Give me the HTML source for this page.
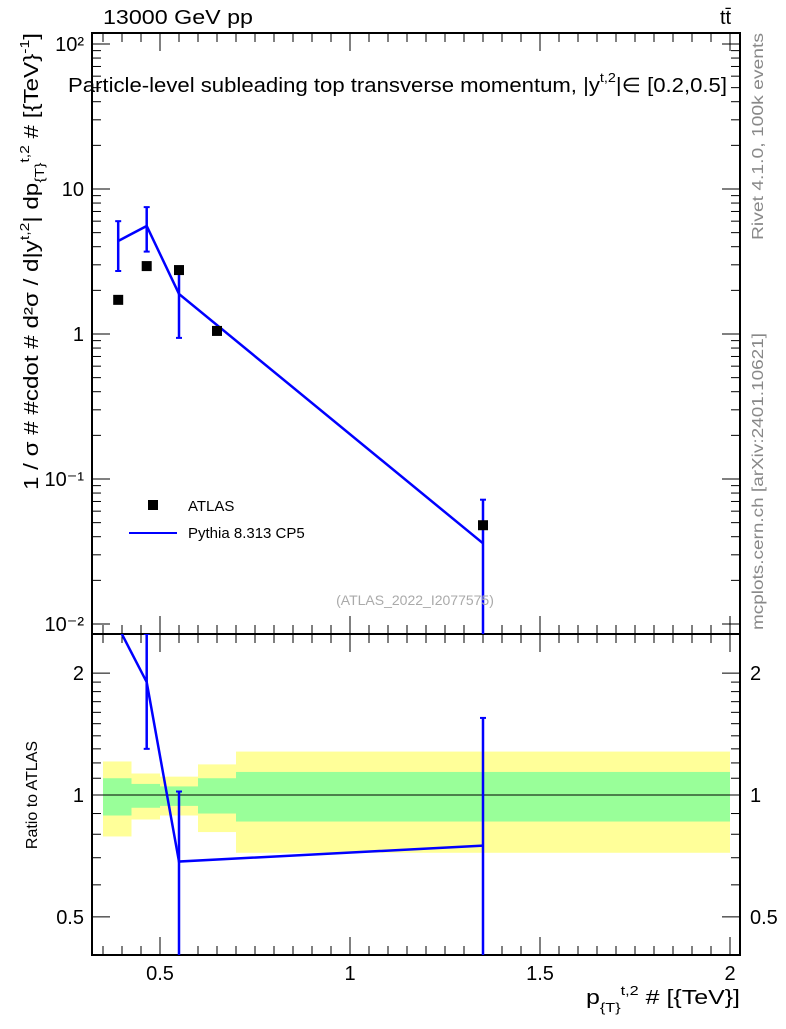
<!DOCTYPE html>
<html><head><meta charset="utf-8"><style>
html,body{margin:0;padding:0;background:#fff;}
svg text{font-family:"Liberation Sans",sans-serif;}
</style></head><body>
<svg id="chart" width="786" height="1024" viewBox="0 0 786 1024" xmlns="http://www.w3.org/2000/svg">
<g id="bands"></g>
<g id="axes"></g>
<g id="series"></g>
<text x="103" y="24" font-size="20" textLength="150" lengthAdjust="spacingAndGlyphs">13000 GeV pp</text>
<text x="720" y="24" font-size="20">tt̄</text>
<text x="68" y="92" font-size="20" textLength="659" lengthAdjust="spacingAndGlyphs">Particle-level subleading top transverse momentum, |y<tspan font-size="13" dy="-10">t,2</tspan><tspan dy="10">|∈ [0.2,0.5]</tspan></text>
<text x="0" y="0" font-size="16" fill="#888" textLength="207" lengthAdjust="spacingAndGlyphs" transform="translate(763,240) rotate(-90)">Rivet 4.1.0,  100k events</text>
<text x="0" y="0" font-size="16" fill="#888" textLength="297" lengthAdjust="spacingAndGlyphs" transform="translate(763,630) rotate(-90)">mcplots.cern.ch [arXiv:2401.10621]</text>
<text x="415" y="605" font-size="14" fill="#aaa" text-anchor="middle">(ATLAS_2022_I2077575)</text>
<text x="0" y="0" font-size="20" textLength="457" lengthAdjust="spacingAndGlyphs" transform="translate(38,490) rotate(-90)">1 / σ # #cdot # d²σ / d|y<tspan font-size="13" dy="-9">t,2</tspan><tspan dy="9">| dp</tspan><tspan font-size="13" dy="6">{T}</tspan><tspan font-size="13" dy="-15">t,2</tspan><tspan dy="9"> # [{TeV}</tspan><tspan font-size="13" dy="-9">-1</tspan><tspan dy="9">]</tspan></text>
<text x="0" y="0" font-size="16" text-anchor="middle" transform="translate(37,795) rotate(-90)">Ratio to ATLAS</text>
<text x="586" y="1004" font-size="20" textLength="154" lengthAdjust="spacingAndGlyphs">p<tspan font-size="13" dy="8">{T}</tspan><tspan font-size="13" dy="-17">t,2</tspan><tspan dy="9"> # [{TeV}]</tspan></text>
<g>
<rect x="148" y="500" width="10" height="10" fill="#000"/>
<text x="188" y="511" font-size="15">ATLAS</text>
<line x1="129" y1="533" x2="177" y2="533" stroke="#0000ff" stroke-width="2"/>
<text x="188" y="538" font-size="15">Pythia 8.313 CP5</text>
</g>
</svg>
<script>
const dataX=[0.39,0.465,0.55,0.65,1.35];
const atlasY=[1.72,2.94,2.76,1.05,0.048];
const mcX=[0.39,0.465,0.55,1.35];
const mcY=[4.38,5.56,1.89,0.036];
const mcLo=[2.72,3.7,0.94,0.0001];
const mcHi=[6.0,7.5,2.8,0.072];
const ratioY=[2.6,1.9,0.685,0.75];
const ratioLo=[2.6,1.3,0.01,0.01];
const ratioHi=[2.6,2.8,1.02,1.55];
const binEdges=[0.35,0.425,0.5,0.6,0.7,2.0];
const yellowHi=[1.21,1.13,1.11,1.19,1.28];
const yellowLo=[0.79,0.87,0.89,0.81,0.72];
const greenHi=[1.10,1.065,1.05,1.10,1.14];
const greenLo=[0.89,0.93,0.94,0.90,0.86];
const xTicks=[0.5,1,1.5,2];
const xTickLabels=["0.5","1","1.5","2"];
const yTicks=[2,1,0,-1,-2];
const yTickLabels=["10²","10","1","10⁻¹","10⁻²"];
const rTicks=[2,1,0.5];
const rTickLabels=["2","1","0.5"];

const NS="http://www.w3.org/2000/svg";
const L=92,R=740,T=33,MB=634,RB=955;
const sx=v=>160+(v-0.5)*380;
const sy=v=>334-Math.log10(v)*145;
const sr=v=>795-Math.log10(v)*405;
const cy=(v,a,b)=>Math.max(a,Math.min(b,v));
function mk(p,tag,at){const e=document.createElementNS(NS,tag);for(const k in at)e.setAttribute(k,at[k]);p.appendChild(e);return e;}
const bands=document.getElementById('bands'),axes=document.getElementById('axes'),ser=document.getElementById('series');

for(let i=0;i<binEdges.length-1;i++){
  const x1=sx(binEdges[i]),x2=sx(binEdges[i+1]);
  const y=mk(bands,'rect',{x:x1,y:sr(yellowHi[i]),width:x2-x1,height:sr(yellowLo[i])-sr(yellowHi[i]),fill:'#ffff99'});
  
  
  const g=mk(bands,'rect',{x:x1,y:sr(greenHi[i]),width:x2-x1,height:sr(greenLo[i])-sr(greenHi[i]),fill:'#99ff99'});
  
  
}
const one=mk(axes,'line',{x1:L,x2:R,y1:sr(1),y2:sr(1),stroke:'#000','stroke-width':1});



for(const [t,b] of [[T,MB],[MB,RB]]){
  const f=mk(axes,'rect',{x:L,y:t,width:R-L,height:b-t,fill:'none',stroke:'#000','stroke-width':2});
  
  
}
for(let v=0.35;v<=2.0001;v+=0.05){
  const x=sx(v);const major=Math.abs(v*2-Math.round(v*2))<1e-6;const len=major?18:9;
  for(const [t,b] of [[T,MB],[MB,RB]]){
    mk(axes,'line',{x1:x,x2:x,y1:b,y2:b-len,stroke:'#000','stroke-width':1});
    mk(axes,'line',{x1:x,x2:x,y1:t,y2:t+len,stroke:'#000','stroke-width':1});
  }
}
xTicks.forEach((v,i)=>{const t=mk(axes,'text',{x:sx(v),y:980,'font-size':20,'text-anchor':'middle'});t.textContent=xTickLabels[i];
 
 });
for(let d=-2;d<=2;d++){for(let m=1;m<10;m++){const v=m*Math.pow(10,d);const y=sy(v);if(y<T||y>MB)continue;const len=m==1?18:9;
 mk(axes,'line',{x1:L,x2:L+len,y1:y,y2:y,stroke:'#000','stroke-width':1});
 mk(axes,'line',{x1:R,x2:R-len,y1:y,y2:y,stroke:'#000','stroke-width':1});}}
yTicks.forEach((d,i)=>{const t=mk(axes,'text',{x:84,y:sy(Math.pow(10,d))+7,'font-size':20,'text-anchor':'end'});t.textContent=yTickLabels[i];
 
 });
[0.4,0.5,0.6,0.7,0.8,0.9,1,1.1,1.2,1.3,1.4,1.5,1.6,1.7,1.8,1.9,2,2.5].forEach(v=>{const y=sr(v);if(y<MB||y>RB)return;const len=[0.5,1,2].includes(v)?18:9;
 mk(axes,'line',{x1:L,x2:L+len,y1:y,y2:y,stroke:'#000','stroke-width':1});
 mk(axes,'line',{x1:R,x2:R-len,y1:y,y2:y,stroke:'#000','stroke-width':1});});
rTicks.forEach((v,i)=>{
 const t=mk(axes,'text',{x:84,y:sr(v)+7,'font-size':20,'text-anchor':'end'});t.textContent=rTickLabels[i];
 
 
 const t2=mk(axes,'text',{x:750,y:sr(v)+7,'font-size':20});t2.textContent=rTickLabels[i];
 
 });

const pl=mk(ser,'polyline',{points:mcX.map((x,i)=>sx(x)+','+sy(mcY[i])).join(' '),fill:'none',stroke:'#0000ff','stroke-width':2.5});


mcX.forEach((x,i)=>{const X=sx(x);const y1=cy(sy(mcHi[i]),T,MB),y2=cy(sy(mcLo[i]),T,MB);
 const e=mk(ser,'line',{x1:X,x2:X,y1:y1,y2:y2,stroke:'#0000ff','stroke-width':2.5});
 
 
 mk(ser,'line',{x1:X-3,x2:X+3,y1:y1,y2:y1,stroke:'#0000ff','stroke-width':2});
 if(y2<MB)mk(ser,'line',{x1:X-3,x2:X+3,y1:y2,y2:y2,stroke:'#0000ff','stroke-width':2});});
dataX.forEach((x,i)=>{const r=mk(ser,'rect',{x:sx(x)-5,y:sy(atlasY[i])-5,width:10,height:10,fill:'#000'});
 
 });

const clip=mk(ser,'clipPath',{id:'rc'});mk(clip,'rect',{x:L,y:MB,width:R-L,height:RB-MB});
const rg=mk(ser,'g',{'clip-path':'url(#rc)'});
const rl=mk(rg,'polyline',{points:mcX.map((x,i)=>sx(x)+','+sr(ratioY[i])).join(' '),fill:'none',stroke:'#0000ff','stroke-width':2.5});


mcX.forEach((x,i)=>{if(ratioHi[i]===ratioLo[i])return;const X=sx(x);const y1=cy(sr(ratioHi[i]),MB,RB),y2=cy(sr(ratioLo[i]),MB,RB);
 const e=mk(rg,'line',{x1:X,x2:X,y1:y1,y2:y2,stroke:'#0000ff','stroke-width':2.5});
 
 
 mk(rg,'line',{x1:X-3,x2:X+3,y1:y1,y2:y1,stroke:'#0000ff','stroke-width':2});
 if(y2<RB)mk(rg,'line',{x1:X-3,x2:X+3,y1:y2,y2:y2,stroke:'#0000ff','stroke-width':2});});
</script>
</body></html>
